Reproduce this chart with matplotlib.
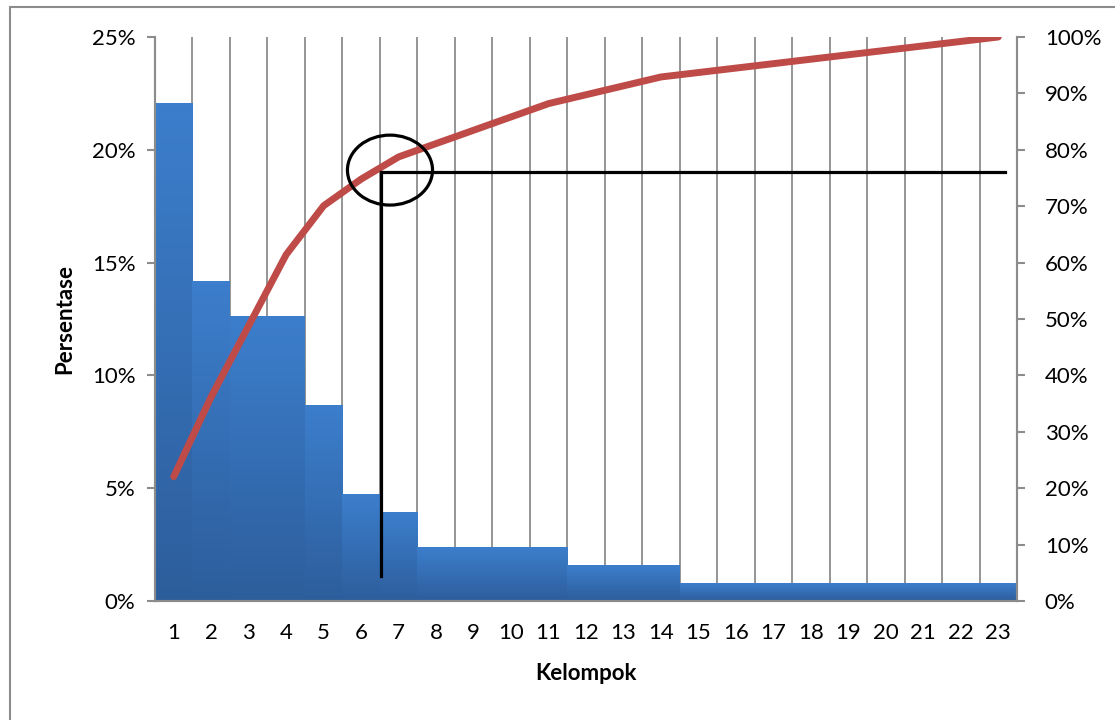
import numpy as np
import matplotlib
matplotlib.use('Agg')
import matplotlib.pyplot as plt
import matplotlib.ticker as mtick
from matplotlib.colors import LinearSegmentedColormap
from matplotlib.patches import Ellipse, Rectangle

plt.rcParams['font.family'] = ['Lato', 'DejaVu Sans']

kelompok = list(range(1, 24))
counts = [28, 18, 16, 16, 11, 6, 5, 3, 3, 3, 3, 2, 2, 2, 1, 1, 1, 1, 1, 1, 1, 1, 1]
persen = [c / sum(counts) * 100 for c in counts]
kumulatif = list(np.cumsum(persen) / 100)

# guide lines (x position, left-axis %), drawn on the right axis scale
garis_x = [6.53, 23.18]
garis_y = [0.76, 0.044]
lingkaran = (6.77, 0.764)

grid_c = '#8c8c8c'
blue_cm = LinearSegmentedColormap.from_list('bar', ['#3c7ecc', '#2d5e9c'])

fig = plt.figure(figsize=(11.15, 7.2), dpi=100)
ax = fig.add_axes([155 / 1115, 1 - 601 / 720, 862 / 1115, 564 / 720])
ax2 = ax.twinx()

fig.patches.append(Rectangle((10 / 1115, -0.1), 1.2, 1 - 7 / 720 + 0.1,
                             transform=fig.transFigure, fill=False,
                             ec='#8c8c8c', lw=1.5))

# bars with vertical gradient, light on top
grad = np.linspace(0, 1, 100).reshape(-1, 1)
for x, v in zip(kelompok, persen):
  ax.imshow(grad, cmap=blue_cm, aspect='auto', extent=(x - 0.5, x + 0.5, 0, v),
            zorder=2, interpolation='bicubic')
ax.set_xlim(0.5, 23.5)
ax.set_ylim(0, 25)

for g in np.arange(1.5, 23, 1):
  ax.axvline(g, color=grid_c, lw=1.3, zorder=1)

ax.set_yticks(np.arange(0, 26, 5))
ax.yaxis.set_major_formatter(mtick.PercentFormatter(decimals=0))
ax.set_xticks(kelompok)
ax.tick_params(axis='x', length=0, labelsize=16, pad=16)
ax.tick_params(axis='y', length=6, width=1.5, color=grid_c, labelsize=16, pad=8)
ax.set_ylabel('Persentase', fontsize=16, fontweight='bold', labelpad=12)
ax.set_xlabel('Kelompok', fontsize=16, fontweight='bold', labelpad=14)

ax2.set_ylim(0, 1)
ax2.set_yticks(np.arange(0, 1.01, 0.1))
ax2.yaxis.set_major_formatter(mtick.PercentFormatter(xmax=1, decimals=0))
ax2.tick_params(axis='y', length=6, width=1.5, color=grid_c, labelsize=16, pad=14)

for a in (ax, ax2):
  a.spines['top'].set_visible(False)
  for s in ('left', 'right', 'bottom'):
    a.spines[s].set_color(grid_c)
    a.spines[s].set_linewidth(1.5)

ax2.plot(kelompok, kumulatif, color='#be4b48', lw=5, solid_capstyle='round', zorder=3)

ax2.plot([garis_x[0], garis_x[0]], [garis_y[1], garis_y[0]], color='black', lw=2.3, zorder=4)
ax2.plot([garis_x[0], garis_x[1]], [garis_y[0], garis_y[0]], color='black', lw=2.3, zorder=4)
ax2.add_patch(Ellipse(lingkaran, 2.27, 0.124, fill=False, ec='black', lw=2.3, zorder=5))

plt.savefig('out.png', dpi=100)
